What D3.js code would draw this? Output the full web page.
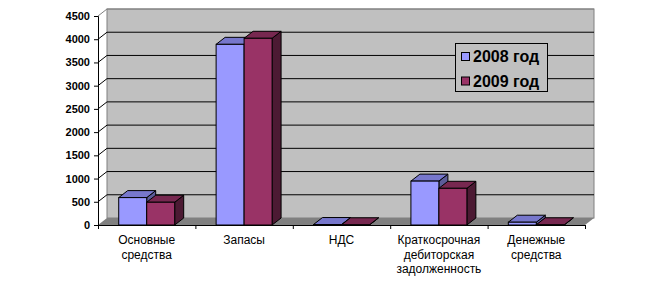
<!DOCTYPE html>
<html>
<head>
<meta charset="utf-8">
<script src="https://cdn.jsdelivr.net/npm/d3@7/dist/d3.min.js"></script>
<style>
  html, body { margin: 0; padding: 0; background: #fff; }
  svg { display: block; font-family: "Liberation Sans", Arial, sans-serif; }
</style>
</head>
<body>
<div id="app"></div>
<script>
const categories = [
  ["Основные", "средства"],
  ["Запасы"],
  ["НДС"],
  ["Краткосрочная", "дебиторская", "задолженность"],
  ["Денежные", "средства"]
];
const series = ["2008 год", "2009 год"];
const values2008 = [590, 3890, 10, 945, 60];
const values2009 = [490, 4020, 5, 790, 5];
const yTicks = [0, 500, 1000, 1500, 2000, 2500, 3000, 3500, 4000, 4500];

const colors = {
  "2008 год": { front: "#9999ff", top: "#7777cc", side: "#5c5c99" },
  "2009 год": { front: "#993366", top: "#772850", side: "#4c1a33" }
};

const width = 656, height = 287;
const plotLeft = 98, plotRight = 585, plotBottom = 225, plotTop = 16;
const dx = 9, dy = 7; // 3d depth offset

const svg = d3.select("#app").append("svg")
  .attr("width", width).attr("height", height);

const y = d3.scaleLinear().domain([0, 4500]).range([plotBottom, plotTop]);
const idx = d3.range(categories.length);
const x0 = d3.scaleBand().domain(idx).range([plotLeft, plotRight]).padding(0);
const x1 = d3.scaleBand().domain(series).range([0, x0.bandwidth()])
  .paddingInner(0).paddingOuter(0.74);
const xEdge = d3.scaleLinear().domain([0, categories.length]).range([plotLeft, plotRight]);

// back wall
svg.append("rect")
  .attr("x", plotLeft + dx).attr("y", plotTop - dy)
  .attr("width", plotRight - plotLeft).attr("height", plotBottom - plotTop)
  .attr("fill", "#c0c0c0").attr("stroke", "#808080");

// floor
svg.append("polygon")
  .attr("points", [[plotLeft, plotBottom], [plotRight, plotBottom], [plotRight + dx, plotBottom - dy], [plotLeft + dx, plotBottom - dy]].join(" "))
  .attr("fill", "#808080");

// gridlines (left wall diagonal + back wall)
svg.append("g").selectAll("polyline")
  .data(yTicks.filter(d => d > 0))
  .join("polyline")
  .attr("points", d => [[plotLeft, y(d)], [plotLeft + dx, y(d) - dy], [plotRight + dx, y(d) - dy]].join(" "))
  .attr("fill", "none")
  .attr("stroke", d => d === 4500 ? "#808080" : "#000")
  .attr("stroke-width", 1);

// bars
const rows = series.map((s, j) => ({ s, vals: j === 0 ? values2008 : values2009 }));
const bars = [];
idx.forEach(i => rows.forEach(r => bars.push({ i, s: r.s, v: r.vals[i] })));

const bar = svg.append("g").selectAll("g").data(bars).join("g");
bar.each(function (d) {
  const g = d3.select(this);
  const bx = x0(d.i) + x1(d.s);
  const bw = x1.bandwidth();
  const by = y(d.v);
  const c = colors[d.s];
  g.append("polygon")
    .attr("points", [[bx + bw, by], [bx + bw + dx, by - dy], [bx + bw + dx, plotBottom - dy], [bx + bw, plotBottom]].join(" "))
    .attr("fill", c.side).attr("stroke", "#000").attr("stroke-linejoin", "round");
  g.append("polygon")
    .attr("points", [[bx, by], [bx + dx, by - dy], [bx + bw + dx, by - dy], [bx + bw, by]].join(" "))
    .attr("fill", c.top).attr("stroke", "#000").attr("stroke-linejoin", "round");
  g.append("rect")
    .attr("x", bx).attr("y", by).attr("width", bw).attr("height", plotBottom - by)
    .attr("fill", c.front).attr("stroke", "#000");
});

// y axis
const yAxis = svg.append("g")
  .attr("transform", `translate(${plotLeft},0)`)
  .call(d3.axisLeft(y).tickValues(yTicks).tickSize(4).tickPadding(4).tickFormat(d3.format("d")));
yAxis.select(".domain").attr("stroke", "#000");
yAxis.selectAll("text")
  .attr("font-size", 11).attr("font-weight", "bold").attr("fill", "#000")
  .attr("font-family", "'Liberation Sans', Arial, sans-serif");

// x axis
const xAxis = svg.append("g")
  .attr("transform", `translate(0,${plotBottom})`)
  .call(d3.axisBottom(xEdge).ticks(categories.length).tickSize(4).tickFormat(""));
xAxis.select(".domain").attr("stroke", "#000");

const labels = svg.append("g").selectAll("text")
  .data(idx)
  .join("text")
  .attr("x", i => x0(i) + x0.bandwidth() / 2)
  .attr("y", plotBottom + 19)
  .attr("text-anchor", "middle")
  .attr("font-size", 12)
  .attr("fill", "#000");
labels.selectAll("tspan")
  .data(i => categories[i].map(t => ({ t, i })))
  .join("tspan")
  .attr("x", d => x0(d.i) + x0.bandwidth() / 2)
  .attr("dy", (d, k) => k === 0 ? 0 : 14.5)
  .text(d => d.t);

// legend
const legend = svg.append("g");
legend.append("rect")
  .attr("x", 455.5).attr("y", 43.5).attr("width", 92).attr("height", 48)
  .attr("fill", "#c0c0c0").attr("stroke", "#000");
const item = legend.selectAll("g.item").data(series).join("g")
  .attr("class", "item")
  .attr("transform", (d, i) => `translate(0,${i * 24.5})`);
item.append("rect")
  .attr("x", 461.5).attr("y", 52.5).attr("width", 8).attr("height", 8)
  .attr("fill", d => colors[d].front).attr("stroke", "#000");
item.append("text")
  .attr("x", 473).attr("y", 62)
  .attr("font-size", 16).attr("font-weight", "bold")
  .attr("fill", "#000")
  .text(d => d);
</script>
</body>
</html>
